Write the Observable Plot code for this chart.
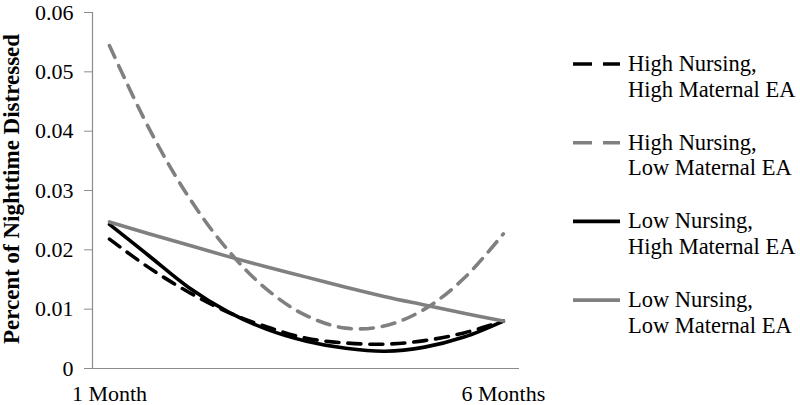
<!DOCTYPE html>
<html>
<head>
<meta charset="utf-8">
<script src="https://cdn.jsdelivr.net/npm/d3@7"></script>
<script src="https://cdn.jsdelivr.net/npm/@observablehq/plot@0.6"></script>
<style>
  html, body { margin: 0; padding: 0; background: #fff; }
  #wrap { position: relative; width: 800px; height: 405px; }
  #wrap svg { font-family: "Liberation Serif", "Times New Roman", serif; }
  #legend { position: absolute; left: 0; top: 0; }
</style>
</head>
<body>
<div id="wrap"></div>
<script>
// ---- data ----
const months = [1, 1.5, 2, 2.5, 3, 3.5, 4, 4.5, 5, 5.5, 6];
const seriesNames = [
  "High Nursing, High Maternal EA",
  "High Nursing, Low Maternal EA",
  "Low Nursing, High Maternal EA",
  "Low Nursing, Low Maternal EA"
];
const highNursHighEA = [0.0218, 0.0170, 0.0129, 0.0095, 0.0070, 0.0051, 0.0043, 0.0041, 0.0047, 0.0060, 0.0080];
const highNursLowEA  = [0.0544, 0.0405, 0.0290, 0.0200, 0.0133, 0.0089, 0.0068, 0.0072, 0.0100, 0.0152, 0.0227];
const lowNursHighEA  = [0.0243, 0.0190, 0.0137, 0.0096, 0.0066, 0.0046, 0.0034, 0.0029, 0.0036, 0.0053, 0.0080];
const lowNursLowEA   = [0.0247, 0.0227, 0.0208, 0.0189, 0.0171, 0.0154, 0.0137, 0.0121, 0.0107, 0.0093, 0.0080];
const yTicks = [0, 0.01, 0.02, 0.03, 0.04, 0.05, 0.06];
const xTicks = [1, 6];
const xTickLabels = ["1 Month", "6 Months"];
const yLabel = "Percent of Nighttime Distressed";

// ---- styles ----
const GRAY = "#808080";
const AXIS = "#8c8c8c";
const styles = [
  {stroke: "#000", dash: "13,9"},
  {stroke: GRAY, dash: "13,9"},
  {stroke: "#000", dash: null},
  {stroke: GRAY, dash: null}
];
const valueArrays = [highNursHighEA, highNursLowEA, lowNursHighEA, lowNursLowEA];
const rows = [];
valueArrays.forEach((arr, i) => arr.forEach((v, j) => rows.push({series: seriesNames[i], month: months[j], value: v})));

const xDomain = [0.784, 6.205];

const marks = [
  Plot.ruleY([0], {stroke: AXIS, strokeWidth: 1.2}),
  Plot.ruleX([xDomain[0]], {stroke: AXIS, strokeWidth: 1.2}),
  Plot.axisY({
    ticks: yTicks, tickSize: 8, tickPadding: 11, stroke: AXIS,
    tickFormat: d => d === 0 ? "0" : d.toFixed(2),
    fontSize: 22, fill: "#000", label: null
  }),
  Plot.axisX({
    ticks: xTicks, tickSize: 0, tickPadding: 17,
    tickFormat: (d) => xTickLabels[xTicks.indexOf(d)],
    fontSize: 22, fill: "#000", label: null
  }),
  ...seriesNames.map((name, i) => Plot.line(rows.filter(r => r.series === name), {
    x: "month", y: "value", stroke: styles[i].stroke, strokeWidth: 3.6,
    strokeDasharray: styles[i].dash, curve: "catmull-rom"
  }))
];

const chart = Plot.plot({
  width: 800, height: 405,
  marginLeft: 92, marginRight: 281, marginTop: 12, marginBottom: 37,
  x: {type: "linear", domain: xDomain},
  y: {domain: [0, 0.06]},
  style: {fontFamily: '"Liberation Serif", "Times New Roman", serif', background: "#fff"},
  marks
});
document.getElementById("wrap").appendChild(chart);

// y-axis title
const svg = d3.select(chart);
svg.append("text")
  .attr("transform", "translate(19,189) rotate(-90)")
  .attr("text-anchor", "middle")
  .attr("font-size", 23)
  .attr("font-weight", "bold")
  .attr("fill", "#000")
  .text(yLabel);

// legend (overlay)
const lg = d3.select("#wrap").append("svg")
  .attr("id", "legend").attr("width", 800).attr("height", 405);
const legendLines = [
  ["High Nursing,", "High Maternal EA"],
  ["High Nursing,", "Low Maternal EA"],
  ["Low Nursing,", "High Maternal EA"],
  ["Low Nursing,", "Low Maternal EA"]
];
legendLines.forEach((lines, i) => {
  const base = 71 + i * 78.7;
  lg.append("line")
    .attr("x1", 573).attr("x2", 620)
    .attr("y1", base - 7).attr("y2", base - 7)
    .attr("stroke", styles[i].stroke).attr("stroke-width", 3.6)
    .attr("stroke-dasharray", styles[i].dash ? "19,11" : null);
  lines.forEach((t, k) => {
    lg.append("text")
      .attr("x", 628).attr("y", base + k * 25.5)
      .attr("font-size", 22.5).attr("fill", "#000")
      .text(t);
  });
});
</script>
</body>
</html>
